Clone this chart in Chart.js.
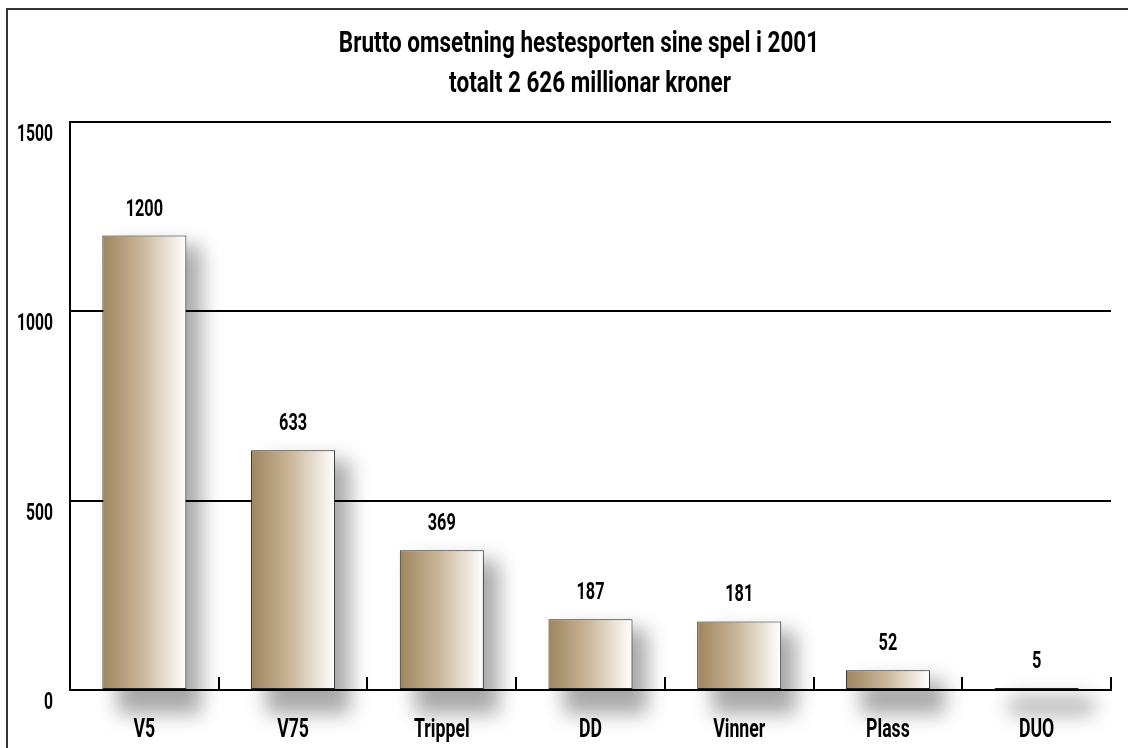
<!DOCTYPE html>
<html>
<head>
<meta charset="utf-8">
<script src="https://cdn.jsdelivr.net/npm/chart.js@4"></script>
<style>
    html, body { margin: 0; padding: 0; background: #fff; }
    #wrap { position: relative; width: 1128px; height: 748px; overflow: hidden; }
    #myChart { position: absolute; left: 0; top: 0; }
    #frame {
        position: absolute; left: 6px; top: 8px; right: -4px; bottom: -4px;
        border-top: 2px solid #333; border-left: 2px solid #333;
        pointer-events: none;
    }
</style>
</head>
<body>
<div id="wrap">
    <canvas id="myChart" width="1128" height="748"></canvas>
    <div id="frame"></div>
</div>
<script>
// data
const titleLines = ['Brutto omsetning hestesporten sine spel i 2001', 'totalt 2 626 millionar kroner']
const categories = ['V5', 'V75', 'Trippel', 'DD', 'Vinner', 'Plass', 'DUO']
const values = [1200, 633, 369, 187, 181, 52, 5]
const yTickValues = [0, 500, 1000, 1500]

// no condensed font installed, so text is squeezed sideways by hand
const FONT = "Roboto, 'DejaVu Sans', sans-serif"
const SQUEEZE = 0.68
const BAR_PCT = 0.565

window.onload = main

function main() {
    const ctx = document.getElementById('myChart').getContext('2d')

    new Chart(ctx, {
        type: 'bar',
        data: {
            labels: categories,
            datasets: [{
                data: values,
                backgroundColor: barGradient,
                borderColor: '#222',
                borderWidth: 1,
                borderSkipped: false,
                categoryPercentage: 1,
                barPercentage: BAR_PCT
            }]
        },
        options: {
            responsive: false,
            animation: false,
            layout: { padding: { left: 0, right: 17, top: 122, bottom: 0 } },
            plugins: {
                legend: { display: false },
                tooltip: { enabled: false },
                title: { display: false }
            },
            scales: {
                x: {
                    grid: { display: false, drawTicks: false },
                    border: { display: true, color: '#000', width: 2 },
                    ticks: { display: false },
                    afterFit: (s) => { s.height = 58 }
                },
                y: {
                    min: 0,
                    max: 1500,
                    ticks: { display: false, stepSize: 500 },
                    grid: { color: '#000', lineWidth: 2, drawTicks: false },
                    border: { display: true, color: '#000', width: 2 },
                    afterFit: (s) => { s.width = 70 }
                }
            }
        },
        plugins: [shadowPlugin, labelsPlugin]
    })
}

// brown -> white horizontal gradient, per bar
function barGradient(c) {
    const chart = c.chart
    if (!chart.chartArea) return '#c4ae8c'
    const x = chart.scales.x
    const step = x.getPixelForValue(1) - x.getPixelForValue(0)
    const w = step * BAR_PCT
    const cx = x.getPixelForValue(c.dataIndex)
    const g = chart.ctx.createLinearGradient(cx - w / 2, 0, cx + w / 2, 0)
    g.addColorStop(0, '#9f845e')
    g.addColorStop(0.45, '#c8b496')
    g.addColorStop(1, '#ffffff')
    return g
}

function narrowText(ctx, text, x, y, size, align, squeeze) {
    ctx.save()
    ctx.font = 'bold ' + size + 'px ' + FONT
    ctx.textAlign = align
    ctx.textBaseline = 'alphabetic'
    ctx.translate(x, y)
    ctx.scale(squeeze || SQUEEZE, 1)
    ctx.fillText(text, 0, 0)
    ctx.restore()
}

// soft shadow behind the bars, drawn before the grid
const shadowPlugin = {
    id: 'barShadow',
    beforeDraw(chart) {
        const ctx = chart.ctx
        const base = chart.scales.y.getPixelForValue(0)
        ctx.save()
        ctx.filter = 'blur(10px)'
        ctx.fillStyle = 'rgba(0,0,0,0.34)'
        chart.getDatasetMeta(0).data.forEach(bar => {
            ctx.fillRect(bar.x - bar.width / 2 + 15, bar.y + 10, bar.width, base - bar.y + 14)
        })
        ctx.restore()
    }
}

const labelsPlugin = {
    id: 'labels',
    afterDatasetsDraw(chart) {
        const ctx = chart.ctx
        const x = chart.scales.x
        const y = chart.scales.y
        const base = y.getPixelForValue(0)
        const half = (x.getPixelForValue(1) - x.getPixelForValue(0)) / 2

        ctx.save()
        // small tick marks between categories, pointing up
        ctx.strokeStyle = '#000'
        ctx.lineWidth = 2
        categories.forEach((_, i) => {
            const bx = Math.round(x.getPixelForValue(i) + half)
            ctx.beginPath()
            ctx.moveTo(bx, base)
            ctx.lineTo(bx, base - 13)
            ctx.stroke()
        })
        ctx.fillStyle = '#000'

        // title
        narrowText(ctx, titleLines[0], 579, 52, 30, 'center', 0.75)
        narrowText(ctx, titleLines[1], 590, 92, 30, 'center', 0.75)

        // category labels
        categories.forEach((label, i) => {
            narrowText(ctx, label, x.getPixelForValue(i), 737, 26, 'center')
        })

        // value labels above bars
        chart.getDatasetMeta(0).data.forEach((bar, i) => {
            narrowText(ctx, String(values[i]), bar.x, bar.y - 20, 24, 'center')
        })

        // y axis labels, sitting a bit below their lines
        yTickValues.forEach(v => {
            narrowText(ctx, String(v), 53, y.getPixelForValue(v) + 19, 23, 'right')
        })
        ctx.restore()
    }
}
</script>
</body>
</html>
